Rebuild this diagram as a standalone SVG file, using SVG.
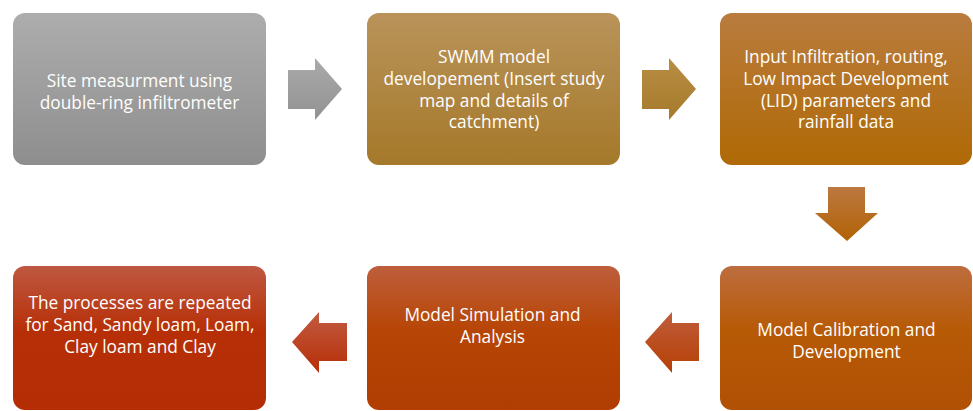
<svg xmlns="http://www.w3.org/2000/svg" width="973" height="411" viewBox="0 0 973 411">
<defs>
<linearGradient id="g1" x1="0" y1="0" x2="0" y2="1"><stop offset="0" stop-color="#adadad"/><stop offset="1" stop-color="#8e8e8e"/></linearGradient>
<linearGradient id="g2" x1="0" y1="0" x2="0" y2="1"><stop offset="0" stop-color="#b9935a"/><stop offset="1" stop-color="#a5792a"/></linearGradient>
<linearGradient id="g3" x1="0" y1="0" x2="0" y2="1"><stop offset="0" stop-color="#b97c3e"/><stop offset="1" stop-color="#b06905"/></linearGradient>
<linearGradient id="g4" x1="0" y1="0" x2="0" y2="1"><stop offset="0" stop-color="#be5842"/><stop offset="0.45" stop-color="#b72f06"/><stop offset="1" stop-color="#b42d04"/></linearGradient>
<linearGradient id="g5" x1="0" y1="0" x2="0" y2="1"><stop offset="0" stop-color="#be5e3c"/><stop offset="0.45" stop-color="#b74505"/><stop offset="1" stop-color="#b03d02"/></linearGradient>
<linearGradient id="g6" x1="0" y1="0" x2="0" y2="1"><stop offset="0" stop-color="#bd6d3e"/><stop offset="0.45" stop-color="#b75a06"/><stop offset="1" stop-color="#b05004"/></linearGradient>
<linearGradient id="a1" x1="0" y1="0" x2="0" y2="1"><stop offset="0" stop-color="#aaaaaa"/><stop offset="1" stop-color="#929292"/></linearGradient>
<linearGradient id="a2" x1="0" y1="0" x2="0" y2="1"><stop offset="0" stop-color="#b88e45"/><stop offset="1" stop-color="#a67a2a"/></linearGradient>
<linearGradient id="a3" x1="0" y1="0" x2="0" y2="1"><stop offset="0" stop-color="#bb7840"/><stop offset="1" stop-color="#b36306"/></linearGradient>
<linearGradient id="a4" x1="0" y1="0" x2="0" y2="1"><stop offset="0" stop-color="#c05c3c"/><stop offset="1" stop-color="#b54004"/></linearGradient>
<linearGradient id="a5" x1="0" y1="0" x2="0" y2="1"><stop offset="0" stop-color="#c15b42"/><stop offset="1" stop-color="#b72e05"/></linearGradient>
</defs>
<style>
.t{font-family:"Open Sans","Liberation Sans",sans-serif;font-size:17.3px;fill:#ffffff;text-anchor:middle}
</style>
<g id="connectors">
<path d="M288,70 H315 V58 L342,89 L315,120 V109 H288 Z" fill="url(#a1)"/>
<path d="M642,70 H669 V58 L696,89 L669,120 V109 H642 Z" fill="url(#a2)"/>
<path d="M828,187 H865 V213 H878 L847,241 L815,213 H828 Z" fill="url(#a3)"/>
<path d="M699,323 H672 V312 L645,342 L672,373 V361 H699 Z" fill="url(#a4)"/>
<path d="M347,323 H319 V312 L292,342 L319,373 V361 H347 Z" fill="url(#a5)"/>
</g>
<g id="n1">
<rect x="13" y="13" width="253" height="152" rx="12" fill="url(#g1)"/>
<text class="t" x="139.5" y="87">Site measurment using</text>
<text class="t" x="139.5" y="109">double-ring infiltrometer</text>
</g>
<g id="n2">
<rect x="367" y="13" width="253" height="152" rx="12" fill="url(#g2)"/>
<text class="t" x="494" y="63">SWMM model</text>
<text class="t" x="494" y="85">developement (Insert study</text>
<text class="t" x="494" y="106.5">map and details of</text>
<text class="t" x="494" y="128">catchment)</text>
</g>
<g id="n3">
<rect x="720" y="13" width="252" height="152" rx="12" fill="url(#g3)"/>
<text class="t" x="846" y="63">Input Infiltration, routing,</text>
<text class="t" x="846" y="85">Low Impact Development</text>
<text class="t" x="846" y="106.5">(LID) parameters and</text>
<text class="t" x="846" y="128">rainfall data</text>
</g>
<g id="n4">
<rect x="720" y="266" width="252" height="144" rx="12" fill="url(#g6)"/>
<text class="t" x="846.5" y="336">Model Calibration and</text>
<text class="t" x="846.5" y="357.5">Development</text>
</g>
<g id="n5">
<rect x="367" y="266" width="253" height="144" rx="12" fill="url(#g5)"/>
<text class="t" x="492.5" y="321">Model Simulation and</text>
<text class="t" x="492.5" y="342.5">Analysis</text>
</g>
<g id="n6">
<rect x="13" y="266" width="253" height="144" rx="12" fill="url(#g4)"/>
<text class="t" x="140" y="309">The processes are repeated</text>
<text class="t" x="140" y="331">for Sand, Sandy loam, Loam,</text>
<text class="t" x="140" y="352.5">Clay loam and Clay</text>
</g>
</svg>
